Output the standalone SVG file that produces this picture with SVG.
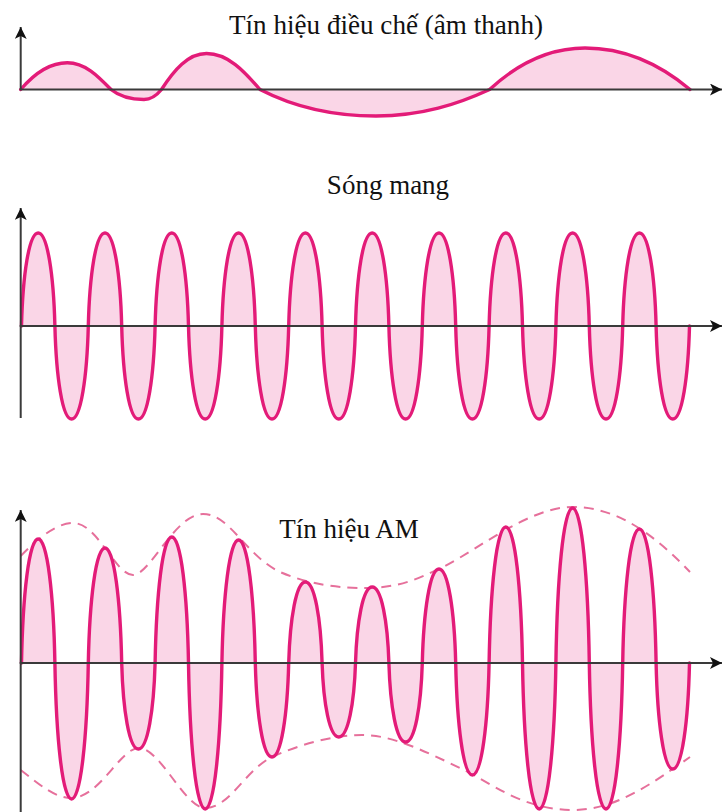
<svg xmlns="http://www.w3.org/2000/svg" width="724" height="812" viewBox="0 0 724 812">
<style>
.bg{fill:#ffffff}
.wave{fill:#fad6e7;stroke:#e31b78;stroke-width:3.4;stroke-linejoin:round;stroke-linecap:round}
.env{fill:none;stroke:#e6709b;stroke-width:2;stroke-dasharray:10 7}
.axis{fill:none;stroke:#3a3a3a;stroke-width:2}
.title{font-family:"Liberation Serif","Times New Roman",serif;font-size:27px;fill:#111111;text-anchor:middle}
</style>
<defs>
<marker id="arrow" markerUnits="userSpaceOnUse" markerWidth="14" markerHeight="12" refX="12" refY="6" orient="auto">
<path d="M0,0 L12,6 L0,12 L3,6 Z" fill="#111111"/>
</marker>
</defs>
<rect class="bg" x="0" y="0" width="724" height="812"/>

<g id="panel-audio">
<text class="title" x="386" y="34" textLength="314" lengthAdjust="spacingAndGlyphs">Tín hiệu điều chế (âm thanh)</text>
<path class="wave" d="M20.7,89.5 C33,75 48,62.7 67.3,62.7 C85,62.7 98,76 111,89.5 C119,96 131,99.5 144,99.5 C152,99.5 157,95 161.5,89.5 C174,70 188,53.5 206.5,53.5 C228,53.5 244,71 260,89.5 C292,106 330,116 376,116 C422,116 458,104 489.6,89.5 C515,66 548,48 585,48 C628,48 662,66 690,89.5"/>
<line class="axis" x1="20.7" y1="89.5" x2="20.7" y2="27" marker-end="url(#arrow)"/>
<line class="axis" x1="19.7" y1="89.5" x2="722" y2="89.5" marker-end="url(#arrow)"/>
</g>

<g id="panel-carrier">
<text class="title" x="388" y="194">Sóng mang</text>
<path class="wave" d="M21.5,326
c1.3,-51.15 7.5,-93 16.7,-93 c9.2,0 15.4,41.85 16.7,93 c1.3,51.15 7.5,93 16.7,93 c9.2,0 15.4,-41.85 16.7,-93
c1.3,-51.15 7.5,-93 16.7,-93 c9.2,0 15.4,41.85 16.7,93 c1.3,51.15 7.5,93 16.7,93 c9.2,0 15.4,-41.85 16.7,-93
c1.3,-51.15 7.5,-93 16.7,-93 c9.2,0 15.4,41.85 16.7,93 c1.3,51.15 7.5,93 16.7,93 c9.2,0 15.4,-41.85 16.7,-93
c1.3,-51.15 7.5,-93 16.7,-93 c9.2,0 15.4,41.85 16.7,93 c1.3,51.15 7.5,93 16.7,93 c9.2,0 15.4,-41.85 16.7,-93
c1.3,-51.15 7.5,-93 16.7,-93 c9.2,0 15.4,41.85 16.7,93 c1.3,51.15 7.5,93 16.7,93 c9.2,0 15.4,-41.85 16.7,-93
c1.3,-51.15 7.5,-93 16.7,-93 c9.2,0 15.4,41.85 16.7,93 c1.3,51.15 7.5,93 16.7,93 c9.2,0 15.4,-41.85 16.7,-93
c1.3,-51.15 7.5,-93 16.7,-93 c9.2,0 15.4,41.85 16.7,93 c1.3,51.15 7.5,93 16.7,93 c9.2,0 15.4,-41.85 16.7,-93
c1.3,-51.15 7.5,-93 16.7,-93 c9.2,0 15.4,41.85 16.7,93 c1.3,51.15 7.5,93 16.7,93 c9.2,0 15.4,-41.85 16.7,-93
c1.3,-51.15 7.5,-93 16.7,-93 c9.2,0 15.4,41.85 16.7,93 c1.3,51.15 7.5,93 16.7,93 c9.2,0 15.4,-41.85 16.7,-93
c1.3,-51.15 7.5,-93 16.7,-93 c9.2,0 15.4,41.85 16.7,93 c1.3,51.15 7.5,93 16.7,93 c9.2,0 15.4,-41.85 16.7,-93"/>
<line class="axis" x1="20.7" y1="418" x2="20.7" y2="208" marker-end="url(#arrow)"/>
<line class="axis" x1="19.7" y1="326" x2="722" y2="326" marker-end="url(#arrow)"/>
</g>

<g id="panel-am">
<text class="title" x="349" y="538">Tín hiệu AM</text>
<path class="env" d="M20.7,556 C40,536 58,523 73,523 C98,523 115,575 133,575 C150,575 175,514 203,514 C230,514 245,555 280,572 C310,585 340,588 365,588 C400,588 420,578 445,566 C480,548 530,507 572,507 C610,507 645,525 690,572"/>
<path class="env" d="M20.7,770 C40,785 55,798 71,798 C100,798 120,748 139,748 C160,748 185,808 205,808 C230,808 245,770 272,757 C300,744 335,735 362,735 C390,735 420,748 474,775 C500,790 530,810 573,810 C615,810 650,785 690,757"/>
<path class="wave" d="M21.5,663
c1.3,-68.2 7.5,-124 16.7,-124 c9.2,0 15.4,55.8 16.7,124 c1.3,74.8 7.5,136 16.7,136 c9.2,0 15.4,-61.2 16.7,-136
c1.3,-63.25 7.5,-115 16.7,-115 c9.2,0 15.4,51.75 16.7,115 c1.3,47.3 7.5,86 16.7,86 c9.2,0 15.4,-38.7 16.7,-86
c1.3,-69.3 7.5,-126 16.7,-126 c9.2,0 15.4,56.7 16.7,126 c1.3,80.3 7.5,146 16.7,146 c9.2,0 15.4,-65.7 16.7,-146
c1.3,-67.65 7.5,-123 16.7,-123 c9.2,0 15.4,55.35 16.7,123 c1.3,51.7 7.5,94 16.7,94 c9.2,0 15.4,-42.3 16.7,-94
c1.3,-44.55 7.5,-81 16.7,-81 c9.2,0 15.4,36.45 16.7,81 c1.3,40.7 7.5,74 16.7,74 c9.2,0 15.4,-33.3 16.7,-74
c1.3,-41.8 7.5,-76 16.7,-76 c9.2,0 15.4,34.2 16.7,76 c1.3,43.45 7.5,79 16.7,79 c9.2,0 15.4,-35.55 16.7,-79
c1.3,-51.7 7.5,-94 16.7,-94 c9.2,0 15.4,42.3 16.7,94 c1.3,61.6 7.5,112 16.7,112 c9.2,0 15.4,-50.4 16.7,-112
c1.3,-74.8 7.5,-136 16.7,-136 c9.2,0 15.4,61.2 16.7,136 c1.3,80.3 7.5,146 16.7,146 c9.2,0 15.4,-65.7 16.7,-146
c1.3,-85.25 7.5,-155 16.7,-155 c9.2,0 15.4,69.75 16.7,155 c1.3,80.3 7.5,146 16.7,146 c9.2,0 15.4,-65.7 16.7,-146
c1.3,-73.7 7.5,-134 16.7,-134 c9.2,0 15.4,60.3 16.7,134 c1.3,58.3 7.5,106 16.7,106 c9.2,0 15.4,-47.7 16.7,-106"/>
<line class="axis" x1="20.7" y1="812" x2="20.7" y2="510" marker-end="url(#arrow)"/>
<line class="axis" x1="19.7" y1="663" x2="722" y2="663" marker-end="url(#arrow)"/>
</g>
</svg>
